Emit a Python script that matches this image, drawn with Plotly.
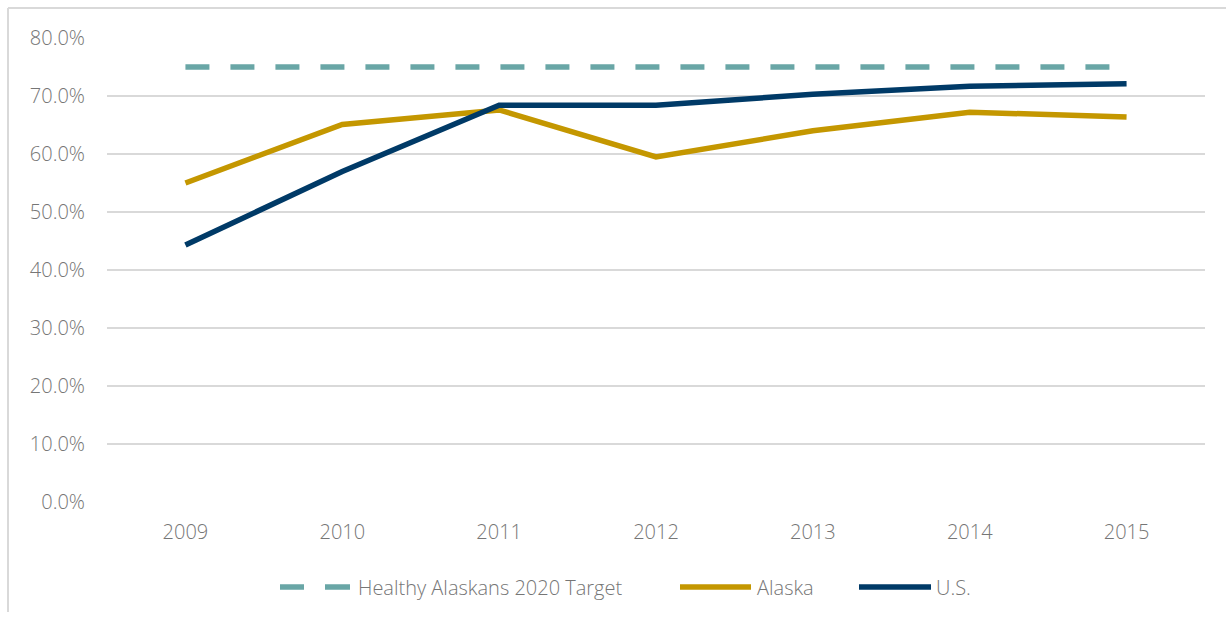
import plotly.graph_objects as go

# Survey years and rates (percent)
years = ["2009", "2010", "2011", "2012", "2013", "2014", "2015"]
target = [75.0, 75.0, 75.0, 75.0, 75.0, 75.0, 75.0]
alaska = [55.0, 65.1, 67.6, 59.5, 64.0, 67.2, 66.4]
us = [44.3, 57.0, 68.4, 68.4, 70.3, 71.7, 72.1]

series_names = ["Healthy Alaskans 2020 Target", "Alaska", "U.S."]
colors = ["#69a6a6", "#c49700", "#003a67"]
y_ticks = [0, 10, 20, 30, 40, 50, 60, 70, 80]
y_tick_text = [f"{v:.1f}%" for v in y_ticks]

W, H = 1226, 621
L, R, T, B = 107, 21, 38, 119
plot_w = W - L - R
plot_h = H - T - B


def px_x(p):
    return (p - L) / plot_w


def px_y(q):
    return (H - B - q) / plot_h


FONT = "Open Sans"
FSIZE = 20
TEXT_GRAY = "#767676"
GRID = "#d9d9d9"
tick_font = dict(family=FONT, size=FSIZE, color=TEXT_GRAY, weight=300)

fig = go.Figure()
fig.add_trace(go.Scatter(x=years, y=target, mode="lines", name=series_names[0],
                         line=dict(color=colors[0], width=5.5, dash="24px,21px"),
                         showlegend=False, hoverinfo="skip"))
fig.add_trace(go.Scatter(x=years, y=alaska, mode="lines", name=series_names[1],
                         line=dict(color=colors[1], width=5.5),
                         showlegend=False))
fig.add_trace(go.Scatter(x=years, y=us, mode="lines", name=series_names[2],
                         line=dict(color=colors[2], width=5.5),
                         showlegend=False))

shapes = [
    # outer frame (left and top edges)
    dict(type="line", xref="paper", yref="paper", x0=px_x(8), x1=px_x(8),
         y0=px_y(8), y1=px_y(612), line=dict(color=GRID, width=2)),
    dict(type="line", xref="paper", yref="paper", x0=px_x(8), x1=px_x(1226),
         y0=px_y(8), y1=px_y(8), line=dict(color=GRID, width=2)),
]

# legend row
leg_y = px_y(587)
legend_items = [
    (series_names[0], colors[0], [(280, 304), (325, 350)], 356),
    (series_names[1], colors[1], [(680, 751)], 755),
    (series_names[2], colors[2], [(859, 931)], 934),
]
annotations = []
for name, col, segs, tx in legend_items:
    for a, b in segs:
        shapes.append(dict(type="line", xref="paper", yref="paper",
                           x0=px_x(a), x1=px_x(b), y0=leg_y, y1=leg_y,
                           line=dict(color=col, width=5.5)))
    annotations.append(dict(xref="paper", yref="paper", x=px_x(tx), y=leg_y,
                            xanchor="left", yanchor="middle", showarrow=False,
                            text=name, font=tick_font))

fig.update_layout(
    width=W, height=H,
    margin=dict(l=L, r=R, t=T, b=B),
    paper_bgcolor="white", plot_bgcolor="white",
    font=dict(family=FONT, size=FSIZE, color=TEXT_GRAY),
    shapes=shapes, annotations=annotations,
    xaxis=dict(type="category", range=[-0.5, 6.5], showgrid=False,
               showline=False, zeroline=False, ticks="",
               ticklabelstandoff=16, tickfont=tick_font),
    yaxis=dict(range=[0, 80], tickvals=y_ticks, ticktext=y_tick_text,
               showgrid=True, gridcolor=GRID, gridwidth=2,
               zeroline=False, showline=False, ticks="",
               ticklabelstandoff=21, tickfont=tick_font),
)

fig.write_html("out.html")
